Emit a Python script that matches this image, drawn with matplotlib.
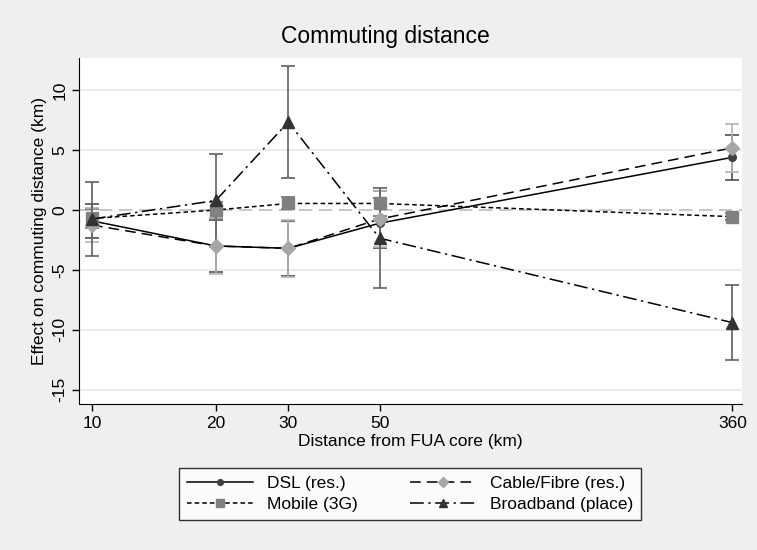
import matplotlib
matplotlib.use("Agg")
import matplotlib.pyplot as plt

# distance bands (km) and point estimates with 95% CI half-widths
distance = [10, 20, 30, 50, 360]

dsl = [-0.9, -3.0, -3.2, -1.1, 4.4]
dsl_ci = [1.4, 2.2, 2.3, 2.1, 1.9]

cable = [-1.25, -3.0, -3.2, -0.75, 5.2]
cable_ci = [1.45, 2.3, 2.4, 2.3, 2.0]

mobile = [-0.7, 0.0, 0.55, 0.55, -0.55]
mobile_ci = [0.8, 0.65, 0.5, 1.05, 0.3]

broadband = [-0.75, 0.8, 7.35, -2.35, -9.4]
broadband_ci = [3.1, 3.85, 4.65, 4.15, 3.15]

series = [
    ("DSL (res.)", dsl, dsl_ci, "-", "o", "#404040", "#505050", 5.5),
    ("Mobile (3G)", mobile, mobile_ci, (0, (3, 2)), "s", "#808080", "#707070", 8),
    ("Cable/Fibre (res.)", cable, cable_ci, (0, (7, 4)), "D", "#a6a6a6", "#b4b4b4", 7),
    ("Broadband (place)", broadband, broadband_ci, (0, (9, 3, 1.5, 3)), "^", "#333333", "#606060", 8),
]

plt.rcParams["font.family"] = ["Liberation Sans", "DejaVu Sans"]

fig = plt.figure(figsize=(7.57, 5.5), dpi=100, facecolor="#efefef")
ax = fig.add_axes([79 / 757, 1 - 404 / 550, 663 / 757, 346 / 550])
ax.set_facecolor("white")

ax.set_xscale("log")
ax.set_xlim(9.3, 380)
ax.set_ylim(-16.2, 12.7)

for y in [-15, -10, -5, 5, 10]:
    ax.axhline(y, color="#eaeaea", lw=1.3, zorder=0)
ax.axhline(0, color="#bdbdbd", lw=1.2, ls=(0, (8, 4)), zorder=0)

handles = []
for label, vals, ci, ls, mk, mcol, ecol, ms in series:
    ax.errorbar(distance, vals, yerr=ci, fmt="none", ecolor=ecol,
                elinewidth=1.2, capsize=5, capthick=1.2, zorder=2)
    h, = ax.plot(distance, vals, color="black", ls=ls, lw=1.1,
                 marker=mk, markersize=ms, markerfacecolor=mcol,
                 markeredgecolor=mcol, zorder=3, label=label)
    handles.append(h)

ax.set_xticks(distance)
ax.set_xticklabels([str(d) for d in distance])
ax.xaxis.set_minor_locator(matplotlib.ticker.NullLocator())
ax.set_yticks([-15, -10, -5, 0, 5, 10])
ax.set_yticklabels(["-15", "-10", "-5", "0", "5", "10"], rotation=90, va="center")

for side in ["top", "right"]:
    ax.spines[side].set_visible(False)
ax.tick_params(direction="out", length=5, width=1, labelsize=12.5, colors="black")

ax.set_xlabel("Distance from FUA core (km)", fontsize=12.5, labelpad=2)
ax.set_ylabel("Effect on commuting distance (km)", fontsize=12.5, labelpad=4)
fig.text(385 / 757, 1 - 37 / 550, "Commuting distance", fontsize=16.5,
         ha="center", va="center")

leg = fig.legend(handles, [h.get_label() for h in handles], ncol=2,
                 loc="center", bbox_to_anchor=(410 / 757, 1 - 494 / 550),
                 fontsize=12.5, frameon=True, fancybox=False, edgecolor="black",
                 handlelength=3.8, numpoints=1, columnspacing=3.0,
                 markerscale=0.75, labelspacing=0.35, borderpad=0.45)
leg.get_frame().set_linewidth(1.0)

fig.savefig("out.png", dpi=100, facecolor=fig.get_facecolor())
